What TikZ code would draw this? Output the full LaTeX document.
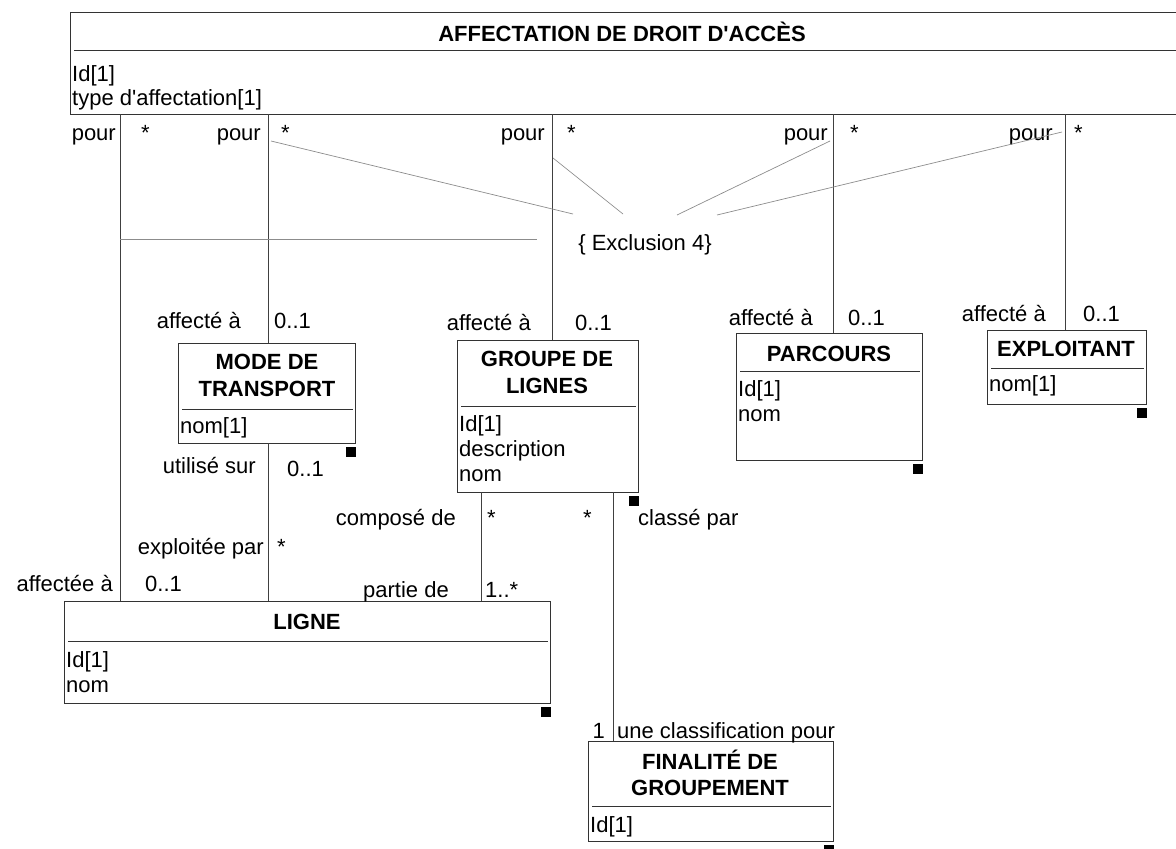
\documentclass[tikz,border=0pt]{standalone}
\usepackage{fontspec}
\setmainfont{Liberation Sans}
\usepackage{tikz}

\begin{document}
\begin{tikzpicture}[x=1pt, y=-1pt, font=\fontsize{22}{25}\selectfont,
  classe/.style={draw=black!80, line width=1pt, anchor=north west, inner sep=0pt, outer sep=0pt},
  titre/.style={font=\fontsize{22}{25}\selectfont\bfseries, inner sep=0pt, anchor=base},
  attr/.style={inner sep=0pt, anchor=base west},
  rolegauche/.style={inner sep=0pt, anchor=base east},
  roledroite/.style={inner sep=0pt, anchor=base west},
  lien/.style={draw=black!75, line width=0.9pt},
  contrainte/.style={draw=black!45, line width=0.7pt},
  poignee/.style={fill=black, minimum size=10pt, inner sep=0pt, anchor=north east}]
\useasboundingbox (0,0) rectangle (1176,849);

% classes
\node[classe, minimum width=1120pt, minimum height=102pt] (aff) at (70,12) {};
\node[classe, minimum width=177pt, minimum height=100pt] (mode) at (178,343) {};
\node[classe, minimum width=181pt, minimum height=152pt] (groupe) at (457,340) {};
\node[classe, minimum width=186pt, minimum height=127pt] (parcours) at (736,333) {};
\node[classe, minimum width=159pt, minimum height=74pt] (exploit) at (987,330) {};
\node[classe, minimum width=486pt, minimum height=102pt] (ligne) at (64,601) {};
\node[classe, minimum width=245pt, minimum height=100pt] (finalite) at (588,741) {};

% separateurs
\draw[black!80, line width=1pt] ([xshift=4pt]aff.west |- 0,50) -- (1190,50);
\draw[black!80, line width=1pt] ([xshift=4pt]mode.west |- 0,409) -- ([xshift=-2pt]mode.east |- 0,409);
\draw[black!80, line width=1pt] ([xshift=4pt]groupe.west |- 0,406) -- ([xshift=-2pt]groupe.east |- 0,406);
\draw[black!80, line width=1pt] ([xshift=4pt]parcours.west |- 0,371) -- ([xshift=-2pt]parcours.east |- 0,371);
\draw[black!80, line width=1pt] ([xshift=4pt]exploit.west |- 0,368) -- ([xshift=-2pt]exploit.east |- 0,368);
\draw[black!80, line width=1pt] ([xshift=4pt]ligne.west |- 0,641) -- ([xshift=-2pt]ligne.east |- 0,641);
\draw[black!80, line width=1pt] ([xshift=4pt]finalite.west |- 0,806) -- ([xshift=-2pt]finalite.east |- 0,806);

% titres
\node[titre] (affT) at (622,41) {AFFECTATION DE DROIT D\textquotesingle ACCÈS};
\node[titre] (modeT1) at (267,369) {MODE DE};
\node[titre] (modeT2) at (267,396) {TRANSPORT};
\node[titre] (groupeT1) at (547,366) {GROUPE DE};
\node[titre] (groupeT2) at (547,393) {LIGNES};
\node[titre] (parcoursT) at (829,361) {PARCOURS};
\node[titre] (exploitT) at (1066,356) {EXPLOITANT};
\node[titre] (ligneT) at (307,629) {LIGNE};
\node[titre] (finaliteT1) at (710,769) {FINALITÉ DE};
\node[titre] (finaliteT2) at (710,795) {GROUPEMENT};

% attributs
\node[attr] (affA1) at (72,81) {Id[1]};
\node[attr] (affA2) at (72,105) {type d\textquotesingle affectation[1]};
\node[attr] (modeA1) at (180,433) {nom[1]};
\node[attr] (groupeA1) at (459,431) {Id[1]};
\node[attr] (groupeA2) at (459,456) {description};
\node[attr] (groupeA3) at (459,481) {nom};
\node[attr] (parcoursA1) at (738,396) {Id[1]};
\node[attr] (parcoursA2) at (738,421) {nom};
\node[attr] (exploitA1) at (989,391) {nom[1]};
\node[attr] (ligneA1) at (66,667) {Id[1]};
\node[attr] (ligneA2) at (66,692) {nom};
\node[attr] (finaliteA1) at (590,832) {Id[1]};

% poignees
\foreach \c in {mode,groupe,parcours,exploit,ligne,finalite}
  \node[poignee] (\c P) at ([shift={(1,4)}]\c.south east) {};

% associations
\coordinate (a1) at (120,114);
\coordinate (a2) at (268,114);
\coordinate (a3) at (552,114);
\coordinate (a4) at (833,114);
\coordinate (a5) at (1065,114);
\coordinate (b1) at (268,443);
\coordinate (b2) at (481,492);
\coordinate (b3) at (613,492);
\draw[lien] (a1) -- (a1 |- ligne.north);
\draw[lien] (a2) -- (a2 |- mode.north);
\draw[lien] (a3) -- (a3 |- groupe.north);
\draw[lien] (a4) -- (a4 |- parcours.north);
\draw[lien] (a5) -- (a5 |- exploit.north);
\draw[lien] (b1) -- (b1 |- ligne.north);
\draw[lien] (b2) -- (b2 |- ligne.north);
\draw[lien] (b3) -- (b3 |- finalite.north);

% roles
\node[rolegauche] (r1) at (116,140) {pour};
\node[roledroite] (m1) at (141,140) {*};
\node[rolegauche] (r2) at (261,140) {pour};
\node[roledroite] (m2) at (281,140) {*};
\node[rolegauche] (r3) at (545,140) {pour};
\node[roledroite] (m3) at (567,140) {*};
\node[rolegauche] (r4) at (828,140) {pour};
\node[roledroite] (m4) at (850,140) {*};
\node[rolegauche] (r5) at (1053,140) {pour};
\node[roledroite] (m5) at (1074,140) {*};

\node[rolegauche] (r6) at (113,591) {affectée à};
\node[roledroite] (m6) at (145,591) {0..1};
\node[rolegauche] (r7) at (241,328) {affecté à};
\node[roledroite] (m7) at (274,328) {0..1};
\node[rolegauche] (r8) at (531,330) {affecté à};
\node[roledroite] (m8) at (575,330) {0..1};
\node[rolegauche] (r9) at (813,325) {affecté à};
\node[roledroite] (m9) at (848,325) {0..1};
\node[rolegauche] (r10) at (1046,321) {affecté à};
\node[roledroite] (m10) at (1083,321) {0..1};

\node[rolegauche] (r11) at (256,473) {utilisé sur};
\node[roledroite] (m11) at (287,476) {0..1};
\node[rolegauche] (r12) at (264,554) {exploitée par};
\node[roledroite] (m12) at (277,554) {*};
\node[rolegauche] (r13) at (456,525) {composé de};
\node[roledroite] (m13) at (487,525) {*};
\node[rolegauche] (r14) at (449,597) {partie de};
\node[roledroite] (m14) at (485,597) {1..*};
\node[rolegauche] (m15) at (592,525) {*};
\node[roledroite] (r15) at (638,525) {classé par};
\node[rolegauche] (m16) at (605,738) {1};
\node[roledroite] (r16) at (617,738) {une classification pour};

% contrainte
\node[inner sep=0pt] (excl) at (645,245) {\{ Exclusion 4\}};
\coordinate (c1) at (271,141);
\coordinate (c2) at (553,158);
\coordinate (c3) at (830,141);
\coordinate (c4) at (1062,132);
\coordinate (c5) at (120,239);
\coordinate (e1) at (573,214);
\coordinate (e2) at (623,214);
\coordinate (e3) at (677,215);
\coordinate (e4) at (717,215);
\coordinate (e5) at (537,239);
\draw[contrainte] (c1) -- (e1);
\draw[contrainte] (c2) -- (e2);
\draw[contrainte] (c3) -- (e3);
\draw[contrainte] (c4) -- (e4);
\draw[contrainte] (c5) -- (e5);
\end{tikzpicture}
\end{document}
